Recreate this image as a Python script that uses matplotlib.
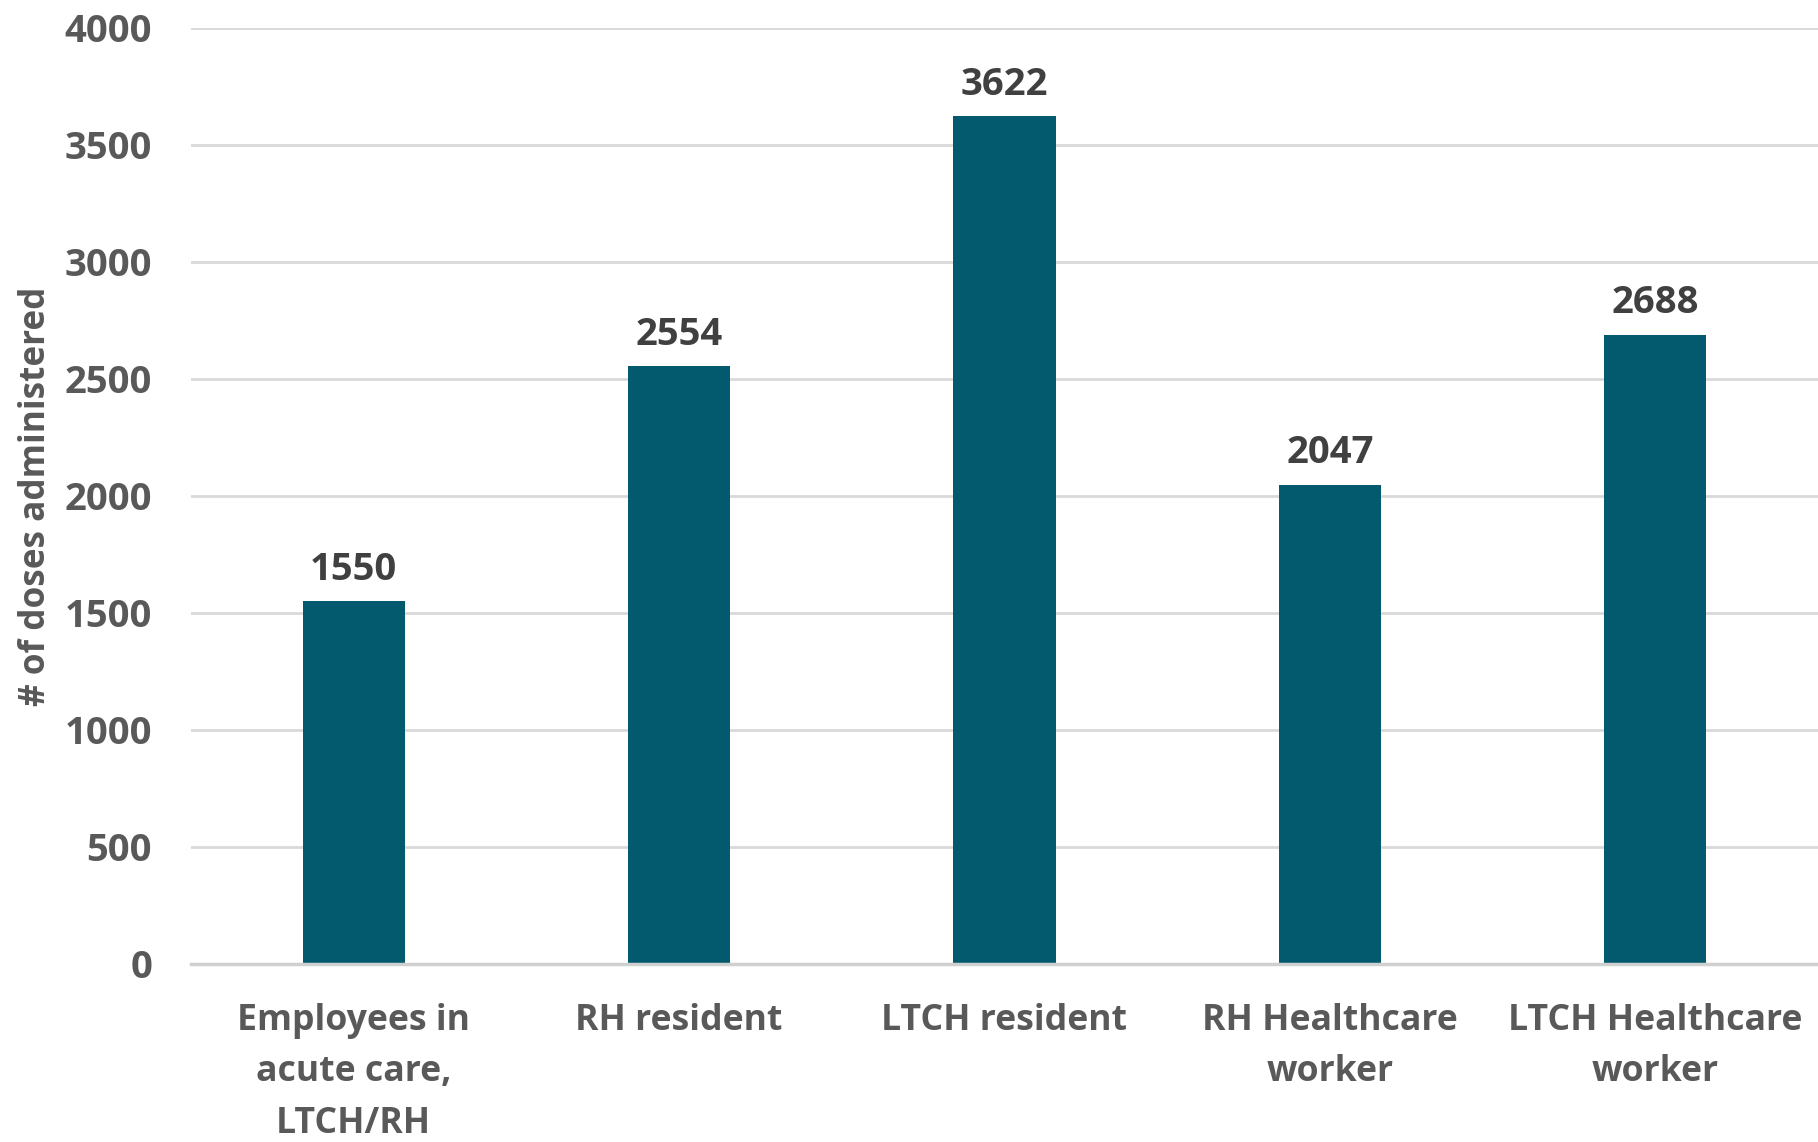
import matplotlib
matplotlib.use("Agg")
import matplotlib.pyplot as plt

categories = ["Employees in\nacute care,\nLTCH/RH", "RH resident", "LTCH resident",
              "RH Healthcare\nworker", "LTCH Healthcare\nworker"]
values = [1550, 2554, 3622, 2047, 2688]
yticks = [0, 500, 1000, 1500, 2000, 2500, 3000, 3500, 4000]

plt.rcParams['font.family'] = ['Open Sans', 'DejaVu Sans']
plt.rcParams['font.weight'] = 'bold'

fig = plt.figure(figsize=(18.18, 11.42), dpi=100)
ax = fig.add_axes([0.105, 0.156, 0.895, 0.8195])

x = list(range(len(categories)))
bars = ax.bar(x, values, width=0.314, color='#03596E', zorder=3)
for xi, v in zip(x, values):
    ax.annotate(str(v), (xi, v), xytext=(0, 9), textcoords='offset points',
                ha='center', va='bottom', fontsize=27.5, fontweight='bold', color='#404040')

ax.set_xlim(-0.5, 4.5)
ax.set_ylim(0, 4000)
ax.set_yticks(yticks)
ax.set_yticklabels([str(t) for t in yticks])
ax.set_xticks(x)
ax.set_xticklabels(categories, linespacing=1.57)
ax.tick_params(axis='y', length=0, pad=28, labelsize=27.5, labelcolor='#595959')
ax.tick_params(axis='x', length=0, pad=28, labelsize=25.7, labelcolor='#595959')
for lab in ax.get_xticklabels() + ax.get_yticklabels():
    lab.set_fontweight('bold')

ax.grid(axis='y', color='#D9D9D9', linewidth=2, zorder=0)
for s in ['top', 'right', 'left']:
    ax.spines[s].set_visible(False)
ax.spines['bottom'].set_color('#D0D0D0')
ax.spines['bottom'].set_linewidth(2.5)
ax.spines['bottom'].set_zorder(4)

fig.text(0.02, 0.565, "# of doses administered", rotation=90, ha='center', va='center',
         fontsize=25.3, fontweight='bold', color='#595959')

fig.savefig("out.png", dpi=100)
